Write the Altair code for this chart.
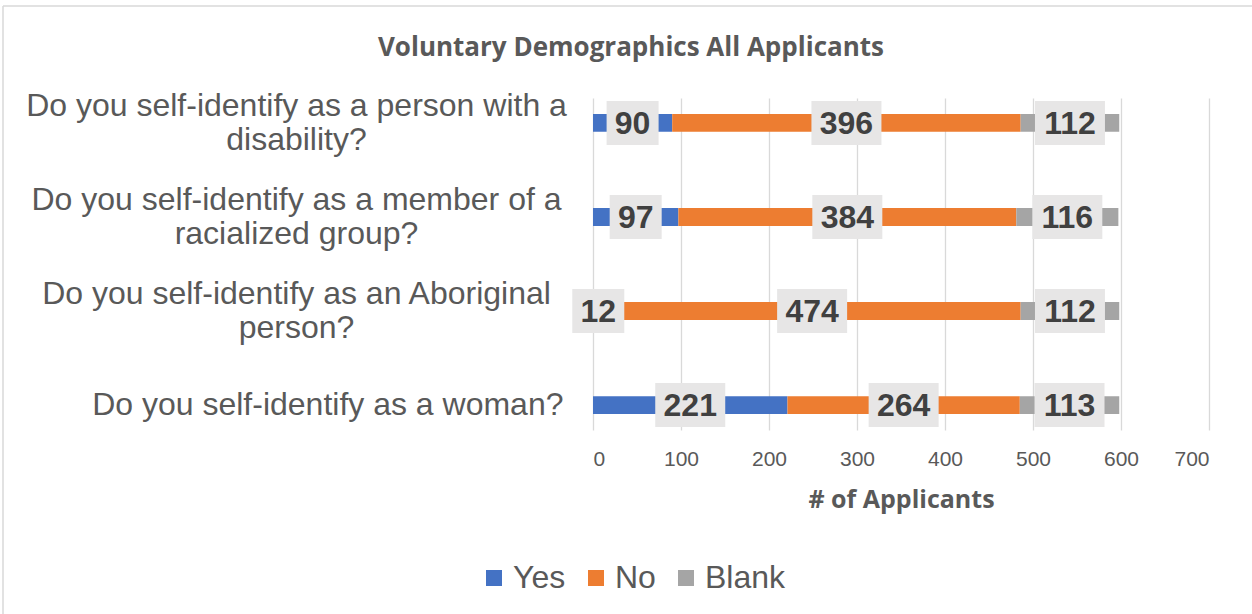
import altair as alt
import pandas as pd

categories = [
    "Do you self-identify as a person with a\ndisability?",
    "Do you self-identify as a member of a\nracialized group?",
    "Do you self-identify as an Aboriginal\nperson?",
    "Do you self-identify as a woman?",
]
responses = ["Yes", "No", "Blank"]
yes_counts = [90, 97, 12, 221]
no_counts = [396, 384, 474, 264]
blank_counts = [112, 116, 112, 113]
colors = ["#4472C4", "#ED7D31", "#A5A5A5"]
x_ticks = [0, 100, 200, 300, 400, 500, 600, 700]

rows = []
for i, c in enumerate(categories):
    start = 0
    for k, (r, vals) in enumerate(zip(responses, [yes_counts, no_counts, blank_counts])):
        v = vals[i]
        rows.append(dict(category=c, response=r, value=v, start=start, end=start + v,
                         mid=start + v / 2, order=k, digits=len(str(v))))
        start += v
df = pd.DataFrame(rows)

W, H = 616, 332
GREY = "#595959"
MULTI = "indexof(datum.value, '\\n') >= 0"

x_axis = alt.Axis(values=x_ticks, title="# of Applicants", grid=True, ticks=False, domain=False,
                  labelFontSize=21, labelColor=GREY, labelPadding=18, labelFont="Liberation Sans",
                  titleFont="Open Sans", titleFontSize=25, titleFontWeight="bold", titleColor=GREY,
                  titlePadding=18, gridColor="#D9D9D9", gridWidth=1.3)
xscale = alt.Scale(domain=[0, 700], nice=False)
y = alt.Y("category:N", sort=categories,
          scale=alt.Scale(paddingInner=0.81, paddingOuter=0.17),
          axis=alt.Axis(title=None, ticks=False, domain=False, labelBaseline="middle",
                        labelAlign={"condition": {"test": MULTI, "value": "center"}, "value": "right"},
                        labelPadding={"condition": {"test": MULTI, "value": 297}, "value": 30},
                        labelFontSize=32, labelLineHeight=34,
                        labelOffset={"condition": {"test": MULTI, "value": -17}, "value": 0},
                        labelExpr="split(datum.label, '\\n')", labelColor=GREY, labelLimit=800,
                        labelFont="Liberation Sans"))

base = alt.Chart(df)

bars = base.mark_bar().encode(
    x=alt.X("start:Q", scale=xscale, axis=x_axis),
    x2="end:Q",
    y=y,
    color=alt.Color("response:N", scale=alt.Scale(domain=responses, range=colors),
                    legend=alt.Legend(title=None, orient="none", legendX=-115, legendY=464,
                                      direction="horizontal", symbolType="square", symbolSize=256,
                                      symbolStrokeWidth=0, labelFontSize=32, labelColor=GREY,
                                      labelFont="Liberation Sans", columnPadding=14, labelOffset=3)),
    order="order:Q",
)

boxes2 = base.transform_filter("datum.digits == 2").mark_bar(
    size=44, xOffset=-26, x2Offset=26, color="#E7E6E6").encode(
    x=alt.X("mid:Q", scale=xscale), x2="mid:Q", y=y)
boxes3 = base.transform_filter("datum.digits == 3").mark_bar(
    size=44, xOffset=-35, x2Offset=35, color="#E7E6E6").encode(
    x=alt.X("mid:Q", scale=xscale), x2="mid:Q", y=y)

texts = base.mark_text(font="Liberation Sans", fontWeight="bold", fontSize=32, color="#404040",
                       baseline="middle", dy=1).encode(
    x=alt.X("mid:Q", scale=xscale), y=y, text="value:Q")

one = alt.Chart(pd.DataFrame({"k": [0]}))
border_top = one.mark_rule(color="#D9D9D9", strokeWidth=1.5).encode(
    x=alt.value(-590), x2=alt.value(670), y=alt.value(-92))
border_left = one.mark_rule(color="#D9D9D9", strokeWidth=1.5).encode(
    x=alt.value(-590), y=alt.value(-92), y2=alt.value(530))

chart = alt.layer(bars, boxes2, boxes3, texts, border_top, border_left).properties(
    width=W, height=H,
    autosize=alt.AutoSizeParams(type="none"),
    padding={"left": 593, "top": 98, "right": 43, "bottom": 184},
    title=alt.TitleParams(text="Voluntary Demographics All Applicants", dx=-270, offset=-56,
                          font="Open Sans", fontSize=26, fontWeight="bold", color=GREY, anchor="middle"),
).configure_view(stroke=None)

chart.save("out.html", embed_options={"renderer": "svg", "actions": False})
